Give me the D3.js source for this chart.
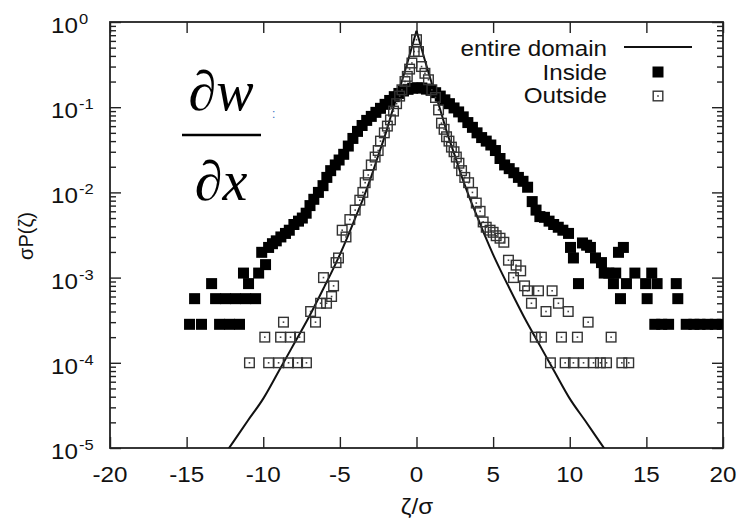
<!DOCTYPE html>
<html><head><meta charset="utf-8">
<script src="https://cdn.jsdelivr.net/npm/d3@7"></script>
<style>body{margin:0;background:#fff}svg{display:block}</style>
</head><body>
<script>
// ---------- data ----------
const xTickValues = [-20,-15,-10,-5,0,5,10,15,20];
const yTickExponents = [0,-1,-2,-3,-4,-5];
const legendLabels = ["entire domain","Inside","Outside"];
const xLabel = "ζ/σ";
const yLabel = "σP(ζ)";

const entireZeta = [-13,-12,-11,-10,-9,-8,-7,-6,-5.5,-5,-4.5,-4,-3.5,-3,-2.5,-2,-1.5,-1,-0.5,0,
  0.5,1,1.5,2,2.5,3,3.5,4,4.5,5,5.5,6,7,8,9,10,11,12,13];
const entireP = [6.3e-6,1.15e-5,2.1e-5,3.8e-5,7.9e-5,1.66e-4,3.5e-4,7.9e-4,1.2e-3,1.86e-3,3.0e-3,5.0e-3,8.3e-3,1.45e-2,2.7e-2,5.0e-2,0.10,0.19,0.38,0.79,
  0.38,0.19,0.10,5.0e-2,2.7e-2,1.45e-2,8.3e-3,5.0e-3,3.0e-3,1.86e-3,1.2e-3,7.9e-4,3.5e-4,1.66e-4,7.9e-5,3.8e-5,2.1e-5,1.15e-5,6.3e-6];

const inside = [[-14.81,2.83e-4],[-14.48,5.66e-4],[-14.03,2.83e-4],[-13.37,8.5e-4],[-13.11,5.66e-4],[-12.85,2.83e-4],
 [-12.46,5.66e-4],[-12.2,2.83e-4],[-11.81,5.66e-4],[-11.55,2.83e-4],[-11.29,1.13e-3],[-11.15,5.66e-4],[-10.96,8.5e-4],
 [-10.5,5.66e-4],[-10.3,1.13e-3],[-10.1,1.98e-3],[-9.85,1.42e-3],[-9.65,2.26e-3],[-9.4,2.5e-3],[-9.15,2.7e-3],[-8.85,3.0e-3],
 [-8.55,3.3e-3],[-8.3,3.6e-3],[-8.0,4.2e-3],[-7.7,4.6e-3],[-7.45,5.0e-3],[-7.2,5.7e-3],[-6.95,7.0e-3],[-6.7,8.3e-3],
 [-6.4,1.0e-2],[-6.1,1.2e-2],[-5.85,1.5e-2],[-5.6,1.8e-2],[-5.3,2.1e-2],[-5.05,2.4e-2],[-4.75,2.8e-2],[-4.45,3.5e-2],
 [-4.15,4.3e-2],[-3.85,5.2e-2],[-3.55,6.1e-2],[-3.25,7.0e-2],[-2.95,7.8e-2],[-2.65,8.7e-2],[-2.35,9.7e-2],[-2.05,0.108],
 [-1.75,0.12],[-1.45,0.133],[-1.15,0.145],[-0.85,0.155],[-0.55,0.162],[-0.25,0.167],[0.05,0.169],[0.35,0.168],[0.65,0.163],
 [0.95,0.158],[1.25,0.148],[1.55,0.135],[1.85,0.122],[2.15,0.11],[2.45,0.098],[2.75,0.088],[3.05,0.077],[3.35,0.066],
 [3.65,0.058],[3.95,0.05],[4.25,0.044],[4.55,0.04],[4.85,0.036],[5.15,0.031],[5.45,0.025],[5.75,0.021],[6.05,0.019],
 [6.35,0.017],[6.65,0.015],[6.95,0.0135],[7.25,0.0115],[7.55,0.0078],[7.8,0.0062],[8.05,0.0052],[8.35,0.0051],[8.65,0.0046],
 [8.95,0.0042],[9.25,0.0039],[9.55,0.0036],[9.92,0.0033],[10.05,0.00226],[10.24,0.0017],[10.57,0.00085],[10.83,0.00255],
 [11.1,0.0024],[11.35,0.00226],[11.68,0.0017],[12.07,0.0015],[12.25,0.00113],[12.55,0.00113],[12.85,0.00085],[13.0,0.00113],
 [13.18,0.00198],[13.31,0.000566],[13.5,0.00226],[13.7,0.00085],[14.25,0.00113],[14.95,0.00085],[15.05,0.000566],
 [15.35,0.00113],[15.55,0.000283],[15.7,0.00085],[16.0,0.000283],[16.45,0.000283],[16.95,0.00085],[17.05,0.000566],
 [17.6,0.000283],[18.1,0.000283],[18.5,0.000283],[19.0,0.000283],[19.5,0.000283],[19.95,0.000283]];

const outside = [[-10.9,1e-4],[-9.9,2e-4],[-9.65,1e-4],[-9.0,1e-4],[-8.87,2e-4],[-8.68,3e-4],[-8.35,1e-4],[-8.22,2e-4],
 [-7.76,1e-4],[-7.63,2e-4],[-7.18,1e-4],[-6.91,4e-4],[-6.59,3e-4],[-6.26,5e-4],[-6.07,1e-3],[-5.87,5e-4],[-5.54,6e-4],
 [-5.41,8e-4],[-5.25,1.5e-3],[-5.09,1.7e-3],[-4.85,3.6e-3],[-4.6,3.0e-3],[-4.35,4.8e-3],[-4.0,6.2e-3],[-3.7,8.1e-3],
 [-3.5,0.010],[-3.35,0.013],[-3.15,0.016],[-2.95,0.021],[-2.7,0.026],[-2.5,0.031],[-2.35,0.04],[-2.1,0.05],[-1.9,0.06],
 [-1.7,0.071],[-1.5,0.09],[-1.3,0.11],[-1.1,0.135],[-0.95,0.16],[-0.75,0.2],[-0.6,0.23],[-0.45,0.28],[-0.3,0.33],
 [-0.15,0.45],[0.0,0.62],[0.13,0.45],[0.33,0.3],[0.55,0.25],[0.78,0.21],[1.0,0.16],[1.24,0.13],[1.44,0.093],[1.63,0.065],
 [1.8,0.055],[1.96,0.045],[2.12,0.04],[2.28,0.034],[2.45,0.03],[2.6,0.026],[2.77,0.022],[2.94,0.018],[3.15,0.015],
 [3.4,0.013],[3.65,0.01],[3.9,0.0075],[4.15,0.006],[4.35,0.0045],[4.55,0.0039],[4.8,0.0036],[5.0,0.0034],[5.2,0.0031],
 [5.45,0.0029],[5.7,0.0026],[6.0,0.0016],[6.33,0.001],[6.5,0.0014],[6.8,0.0012],[7.05,0.0008],[7.25,0.0007],[7.5,0.0005],
 [7.75,2e-4],[7.96,7e-4],[8.15,2e-4],[8.45,4e-4],[8.74,1e-4],[8.85,7e-4],[9.26,5e-4],[9.46,2e-4],[9.7,1e-4],[9.9,4e-4],
 [10.24,1e-4],[10.5,2e-4],[10.9,1e-4],[11.2,3e-4],[11.55,1e-4],[12.0,1e-4],[12.4,1e-4],[12.7,2e-4],[13.4,1e-4],[13.85,1e-4]];

// ---------- drawing ----------
const W = 739, H = 521;
const L = 110, R = 723, T = 22, B = 448;
const SX = 1.1; // horizontal text stretch
const FONT = "'Liberation Sans', Arial, Helvetica, sans-serif";

const svg = d3.select("body").append("svg").attr("width", W).attr("height", H);
const x = d3.scaleLinear().domain([-20, 20]).range([L, R]);
const y = d3.scaleLog().domain([1e-5, 1]).range([B, T]);

function stext(g, px, py, str, size, anchor) {
  return g.append("text")
    .attr("transform", `translate(${px},${py}) scale(${SX},1)`)
    .attr("text-anchor", anchor || "start")
    .attr("font-family", FONT).attr("font-size", size)
    .attr("fill", "#111").text(str);
}

svg.append("defs").append("clipPath").attr("id", "clip")
  .append("rect").attr("x", L).attr("y", T).attr("width", R - L).attr("height", B - T);

// axes ticks (inward)
const majors = yTickExponents.map(e => Math.pow(10, e));
const minors = [];
yTickExponents.slice(1).forEach(e => { for (let k = 2; k <= 9; k++) minors.push(k * Math.pow(10, e)); });

function styleAxis(g) {
  g.select(".domain").remove();
  g.selectAll(".tick line").attr("stroke", "#222").attr("stroke-width", 1.4);
  g.selectAll(".tick text").remove();
}
svg.append("g").attr("transform", `translate(0,${B})`)
  .call(d3.axisBottom(x).tickValues(xTickValues).tickSize(-11).tickFormat("")).call(styleAxis);
svg.append("g").attr("transform", `translate(0,${T})`)
  .call(d3.axisTop(x).tickValues(xTickValues).tickSize(-11).tickFormat("")).call(styleAxis);
svg.append("g").attr("transform", `translate(${L},0)`)
  .call(d3.axisLeft(y).tickValues(majors).tickSize(-11).tickFormat("")).call(styleAxis);
svg.append("g").attr("transform", `translate(${L},0)`)
  .call(d3.axisLeft(y).tickValues(minors).tickSize(-6).tickFormat("")).call(styleAxis);
svg.append("g").attr("transform", `translate(${R},0)`)
  .call(d3.axisRight(y).tickValues(majors).tickSize(-11).tickFormat("")).call(styleAxis);
svg.append("g").attr("transform", `translate(${R},0)`)
  .call(d3.axisRight(y).tickValues(minors).tickSize(-6).tickFormat("")).call(styleAxis);

// frame
svg.append("rect").attr("x", L).attr("y", T).attr("width", R - L).attr("height", B - T)
  .attr("fill", "none").attr("stroke", "#222").attr("stroke-width", 1.8);

// tick labels
const lab = svg.append("g");
xTickValues.forEach(v => stext(lab, x(v), 482, String(v), 22, "middle"));
yTickExponents.forEach(e => {
  const py = y(Math.pow(10, e));
  stext(lab, 78, py + 11, "10", 22, "end");
  stext(lab, 79, py + 2, String(e), 15, "start");
});

// axis titles
stext(svg, 417, 514, xLabel, 22, "middle");
svg.append("text").attr("transform", `translate(33,236) rotate(-90)`)
  .attr("text-anchor", "middle").attr("font-family", FONT).attr("font-size", 20)
  .attr("fill", "#111").text(yLabel);

// plot content
const plot = svg.append("g").attr("clip-path", "url(#clip)");
const entire = entireZeta.map((z, i) => [z, entireP[i]]);
const line = d3.line().x(d => x(d[0])).y(d => y(d[1])).curve(d3.curveMonotoneX);
[entire.filter(d => d[0] <= 0), entire.filter(d => d[0] >= 0)].forEach(part => {
  plot.append("path").attr("d", line(part)).attr("fill", "none")
    .attr("stroke", "#111").attr("stroke-width", 2);
});

const S = 11, SO = 11;
plot.append("g").selectAll("rect").data(inside).join("rect")
  .attr("x", d => x(d[0]) - S / 2).attr("y", d => y(d[1]) - S / 2)
  .attr("width", S).attr("height", S).attr("fill", "#000");

const og = plot.append("g").selectAll("g").data(outside).join("g")
  .attr("transform", d => `translate(${x(d[0])},${y(d[1])})`);
og.append("rect").attr("x", -SO / 2 + 0.7).attr("y", -SO / 2 + 0.7).attr("width", SO - 1.4).attr("height", SO - 1.4)
  .attr("fill", "none").attr("stroke", "#333").attr("stroke-width", 1.4);
og.append("rect").attr("x", -0.8).attr("y", -0.8).attr("width", 1.6).attr("height", 1.6).attr("fill", "#444");

// legend
const lg = svg.append("g");
stext(lg, 607, 56, legendLabels[0], 22, "end");
stext(lg, 607, 80, legendLabels[1], 22, "end");
stext(lg, 607, 103, legendLabels[2], 22, "end");
lg.append("line").attr("x1", 624).attr("x2", 692).attr("y1", 47).attr("y2", 47)
  .attr("stroke", "#111").attr("stroke-width", 2);
lg.append("rect").attr("x", 658 - 5.5).attr("y", 72 - 5.5).attr("width", 11).attr("height", 11).attr("fill", "#000");
lg.append("rect").attr("x", 658 - 4.8).attr("y", 96 - 4.8).attr("width", 9.6).attr("height", 9.6)
  .attr("fill", "none").attr("stroke", "#333").attr("stroke-width", 1.4);
lg.append("rect").attr("x", 657.2).attr("y", 95.2).attr("width", 1.6).attr("height", 1.6).attr("fill", "#444");

// math annotation ∂w/∂x
const SERIF = "'Liberation Serif', 'Times New Roman', serif";
const m1 = svg.append("text").attr("x", 221).attr("y", 110).attr("text-anchor", "middle")
  .attr("font-family", SERIF).attr("font-size", 56).attr("fill", "#000");
m1.append("tspan").text("∂");
m1.append("tspan").attr("font-style", "italic").text("w");
svg.append("line").attr("x1", 182).attr("x2", 261).attr("y1", 135).attr("y2", 135)
  .attr("stroke", "#000").attr("stroke-width", 2.5);
const m2 = svg.append("text").attr("x", 221).attr("y", 200).attr("text-anchor", "middle")
  .attr("font-family", SERIF).attr("font-size", 56).attr("fill", "#000");
m2.append("tspan").text("∂");
m2.append("tspan").attr("font-style", "italic").text("x");
svg.append("text").attr("x", 272).attr("y", 118).attr("font-family", FONT).attr("font-size", 12)
  .attr("fill", "#3a6fc0").text(":");
</script>
</body></html>
